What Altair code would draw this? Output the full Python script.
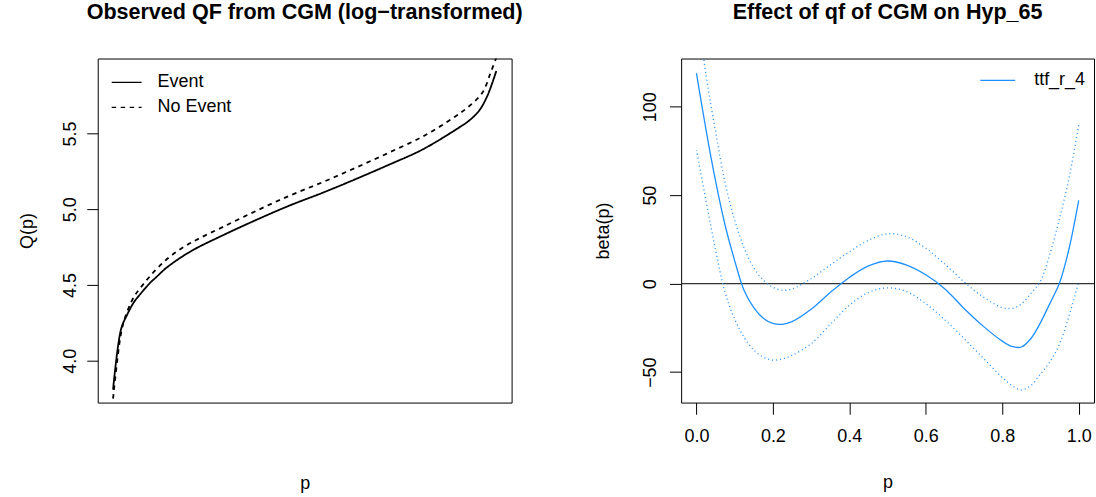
import altair as alt
import pandas as pd

# ---------------- data ----------------
# Left panel: observed quantile functions
event_p = [0, 0.021, 0.036, 0.054, 0.071, 0.097, 0.114, 0.14, 0.201, 0.288, 0.374,
           0.461, 0.548, 0.634, 0.721, 0.808, 0.894, 0.929, 0.955, 0.977, 1.0]
event_q = [3.81, 4.21, 4.30, 4.385, 4.44, 4.515, 4.555, 4.615, 4.72, 4.83, 4.93,
           5.025, 5.11, 5.20, 5.295, 5.395, 5.525, 5.585, 5.65, 5.75, 5.912]
noevent_p = [0, 0.02, 0.032, 0.054, 0.071, 0.097, 0.14, 0.184, 0.227, 0.288, 0.374,
             0.461, 0.548, 0.634, 0.721, 0.808, 0.886, 0.929, 0.964, 0.985, 1.0]
noevent_q = [3.75, 4.17, 4.29, 4.42, 4.48, 4.56, 4.67, 4.75, 4.81, 4.885, 4.99,
             5.09, 5.18, 5.275, 5.375, 5.48, 5.60, 5.68, 5.77, 5.90, 6.0]

# Right panel: beta(p) with pointwise bands
beta_p = [0, 0.025, 0.05, 0.075, 0.1, 0.125, 0.15, 0.175, 0.2, 0.225, 0.25, 0.3, 0.35,
          0.4, 0.45, 0.5, 0.55, 0.6, 0.65, 0.7, 0.75, 0.8, 0.825, 0.85, 0.875, 0.9,
          0.925, 0.95, 0.975, 1.0]
beta_mean = [119, 87, 58, 33, 13, -4, -13.5, -19.5, -22.5, -23, -21.5, -14.5, -5,
             3.5, 10, 12.8, 10.5, 5, -3, -14, -24, -32.5, -35.5, -35.8, -31, -22,
             -11, 0.5, 20, 47]
beta_upper = [160, 118, 86, 57, 36, 20, 9, 2, -2, -3.7, -3, 2.8, 10.5,
              18, 24.5, 28.2, 26.5, 20, 11, 1, -7.5, -13.5, -14, -11.5, -5.5, 1.5,
              17, 37, 60, 89.6]
beta_lower = [75.5, 47, 19, -5, -20, -30.5, -37.5, -41.5, -43.2, -42.5, -40.5, -34, -23,
              -12.2, -5, -2.4, -4.5, -11.3, -20.5, -31, -42, -53, -57.5, -60, -57.5, -51,
              -44, -34, -18, 1]

series_labels = ["Event", "No Event"]
beta_label = "ttf_r_4"
left_yticks = [4.0, 4.5, 5.0, 5.5]
right_xticks = [0.0, 0.2, 0.4, 0.6, 0.8, 1.0]
right_yticks = [-50, 0, 50, 100]

# ---------------- tables ----------------
left_df = pd.concat([
    pd.DataFrame({"p": event_p, "q": event_q, "grp": series_labels[0], "o": range(len(event_p))}),
    pd.DataFrame({"p": noevent_p, "q": noevent_q, "grp": series_labels[1], "o": range(len(noevent_p))}),
])
right_df = pd.DataFrame({"p": beta_p, "mean": beta_mean, "upper": beta_upper,
                         "lower": beta_lower, "lab": beta_label, "o": range(len(beta_p))})
zero_df = pd.DataFrame({"v": [0]})

FONT = "Liberation Sans"
BLUE = "#1E90FF"
W_L, W_R, H = 415, 414, 345
INTERP = "catmull-rom"

title_style = dict(fontSize=21.6, fontWeight="bold", font=FONT, anchor="middle",
                   baseline="alphabetic", offset=18, color="black")

# ---------------- left panel ----------------
lx = alt.X("p:Q", scale=alt.Scale(domain=[-0.04, 1.04], nice=False, zero=False),
           axis=alt.Axis(title="p", labels=False, ticks=False, domain=False, grid=False,
                         titleY=86, titleBaseline="alphabetic", titleFontSize=18,
                         titleFontWeight="normal", titleFont=FONT))
ly = alt.Y("q:Q", scale=alt.Scale(domain=[3.724, 5.995], nice=False, zero=False),
           axis=alt.Axis(title="Q(p)", values=left_yticks, format=".1f", grid=False,
                         domain=False, tickSize=11, tickColor="black", labelAngle=270,
                         labelAlign="center", labelBaseline="alphabetic", labelPadding=11,
                         labelFontSize=18, labelFont=FONT, labelColor="black",
                         titleAngle=270, titleX=-65, titleY=H / 2, titleAlign="center",
                         titleBaseline="alphabetic", titleFontSize=18,
                         titleFontWeight="normal", titleFont=FONT))

left = alt.Chart(left_df).mark_line(color="black", strokeWidth=1.8, clip=True,
                                    interpolate=INTERP).encode(
    x=lx, y=ly, order="o:Q",
    strokeDash=alt.StrokeDash("grp:N",
        scale=alt.Scale(domain=series_labels, range=[[1, 0], [4.5, 4.5]]),
        legend=alt.Legend(title=None, orient="none", legendX=13, legendY=8,
                          symbolType="stroke", symbolSize=900, symbolStrokeWidth=1.2,
                          symbolStrokeColor="black", labelFontSize=18, labelFont=FONT,
                          labelColor="black", labelOffset=15, rowPadding=-7, padding=0)),
).properties(width=W_L, height=H,
             title=alt.TitleParams("Observed QF from CGM (log\u2212transformed)", **title_style))

# ---------------- right panel ----------------
rx = alt.X("p:Q", scale=alt.Scale(domain=[-0.04, 1.04], nice=False, zero=False),
           axis=alt.Axis(title="p", values=right_xticks, format=".1f", grid=False,
                         domain=False, tickSize=11.7, tickColor="black", labelPadding=13,
                         labelBaseline="top", labelFontSize=18, labelFont=FONT,
                         labelColor="black", titleY=85, titleBaseline="alphabetic",
                         titleFontSize=18, titleFontWeight="normal", titleFont=FONT))
ry_scale = alt.Scale(domain=[-67.2, 127.2], nice=False, zero=False)
ry_axis = alt.Axis(title="beta(p)", values=right_yticks, format="d", grid=False,
                   domain=False, tickSize=11.7, tickColor="black", labelAngle=270,
                   labelAlign="center", labelBaseline="alphabetic", labelPadding=14,
                   labelFontSize=18, labelFont=FONT, labelColor="black",
                   titleAngle=270, titleX=-73, titleY=H / 2, titleAlign="center",
                   titleBaseline="alphabetic", titleFontSize=18,
                   titleFontWeight="normal", titleFont=FONT)

base_r = alt.Chart(right_df)
zero_rule = alt.Chart(zero_df).mark_rule(color="#333333", strokeWidth=1.2).encode(
    y=alt.Y("v:Q", scale=ry_scale, axis=ry_axis))
upper = base_r.mark_line(color=BLUE, strokeDash=[1, 3], strokeWidth=1.3, clip=True,
                         interpolate=INTERP).encode(
    x=rx, y=alt.Y("upper:Q", scale=ry_scale, axis=ry_axis), order="o:Q")
lower = base_r.mark_line(color=BLUE, strokeDash=[1, 3], strokeWidth=1.3, clip=True,
                         interpolate=INTERP).encode(
    x=rx, y=alt.Y("lower:Q", scale=ry_scale, axis=ry_axis), order="o:Q")
mean = base_r.mark_line(strokeWidth=1.3, clip=True, interpolate=INTERP).encode(
    x=rx, y=alt.Y("mean:Q", scale=ry_scale, axis=ry_axis), order="o:Q",
    color=alt.Color("lab:N", scale=alt.Scale(domain=[beta_label], range=[BLUE]),
                    legend=alt.Legend(title=None, orient="none", legendX=299, legendY=3.5,
                                      symbolType="stroke", symbolSize=1225,
                                      symbolStrokeWidth=1.3, labelFontSize=18,
                                      labelFont=FONT, labelColor="black",
                                      labelOffset=18, padding=0)))

right = alt.layer(zero_rule, upper, lower, mean).properties(
    width=W_R, height=H,
    title=alt.TitleParams("Effect of qf of CGM on Hyp_65", **title_style))

chart = alt.hconcat(left, right, spacing=170, bounds="flush").resolve_scale(
    strokeDash="independent", color="independent"
).properties(
    padding={"left": 18, "top": 0, "right": 0, "bottom": 2},
    autosize=alt.AutoSizeParams(type="pad"),
).configure(font=FONT).configure_view(stroke="black", strokeWidth=1)

chart.save("out.html", embed_options={"renderer": "svg", "actions": False})
